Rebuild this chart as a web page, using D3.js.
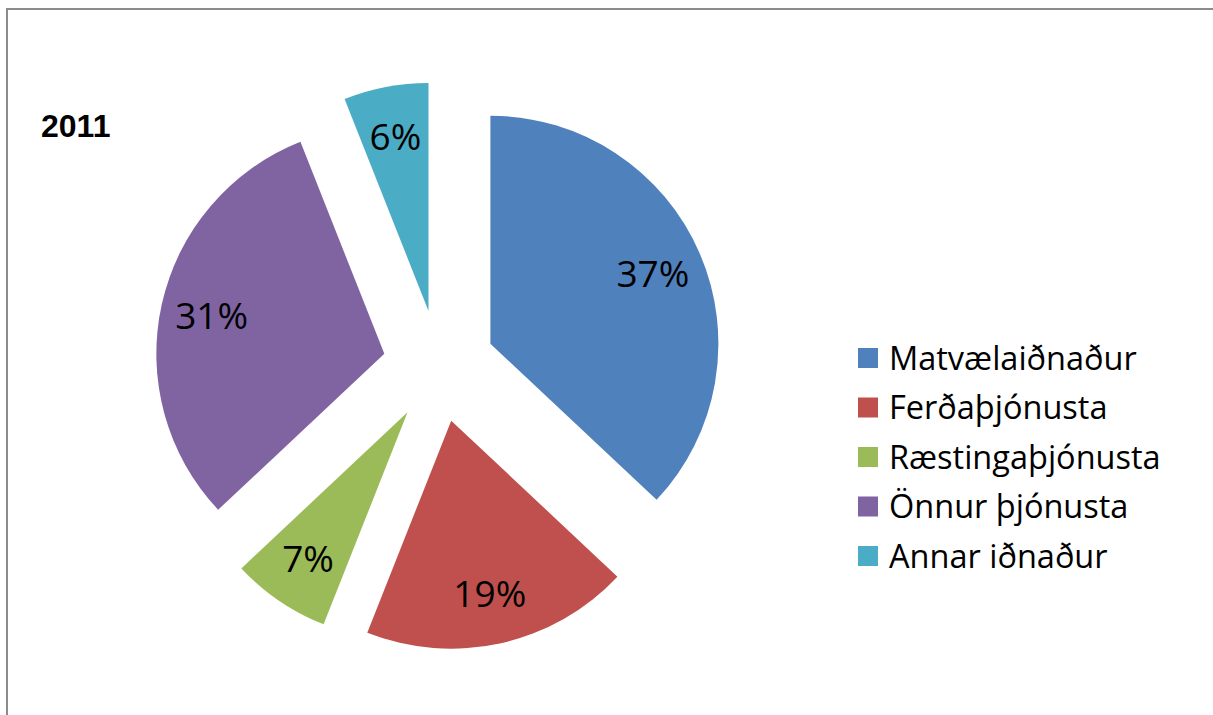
<!DOCTYPE html>
<html><head><meta charset="utf-8">
<script src="https://cdn.jsdelivr.net/npm/d3@7"></script>
<style>html,body{margin:0;padding:0;background:#fff;}svg{display:block;}</style>
</head><body>
<svg id="chart" width="1213" height="715"></svg>
<script>
const categories = ["Matvælaiðnaður","Ferðaþjónusta","Ræstingaþjónusta","Önnur þjónusta","Annar iðnaður"];
const values = [37,19,7,31,6];
const labels = ["37%","19%","7%","31%","6%"];
const colors = ["#4F81BD","#C0504D","#9BBB59","#8064A2","#4BACC6"];
const title = "2011";

const svg = d3.select("#chart");
const W = 1213, H = 715;
svg.append("rect").attr("x",7).attr("y",9).attr("width",W+20).attr("height",H+20)
  .attr("fill","#fff").attr("stroke","#8c8c8c").attr("stroke-width",2);

const cx = 439, cy = 366, R = 228, explode = 56, labelR = 177;
const pie = d3.pie().sort(null).value(d=>d);
const arcs = pie(values);
const arc = d3.arc().innerRadius(0).outerRadius(R);

const g = svg.append("g").attr("transform",`translate(${cx},${cy})`);
arcs.forEach((a,i)=>{
  const mid = (a.startAngle+a.endAngle)/2;
  const dx = Math.sin(mid)*explode, dy = -Math.cos(mid)*explode;
  const sg = g.append("g").attr("transform",`translate(${dx},${dy})`);
  sg.append("path").attr("d",arc(a)).attr("fill",colors[i]);
  sg.append("text")
    .attr("x",Math.sin(mid)*labelR).attr("y",-Math.cos(mid)*labelR)
    .attr("text-anchor","middle").attr("dy","0.36em")
    .attr("font-family","'Open Sans', sans-serif").attr("font-size",37)
    .attr("fill","#000").text(labels[i]);
});

svg.append("text").attr("x",41).attr("y",137)
  .attr("font-family","'Liberation Sans', Arial, sans-serif").attr("font-weight","bold")
  .attr("font-size",32).attr("fill","#000").text(title);

const leg = svg.append("g");
const ly0 = 358, lstep = 49.5;
categories.forEach((c,i)=>{
  const y = ly0 + i*lstep;
  leg.append("rect").attr("x",858).attr("y",y-10).attr("width",20).attr("height",20).attr("fill",colors[i]);
  leg.append("text").attr("x",889).attr("y",y).attr("dy","0.36em")
    .attr("font-family","'Open Sans', sans-serif").attr("font-size",32.5)
    .attr("fill","#000").text(c);
});
</script>
</body></html>
